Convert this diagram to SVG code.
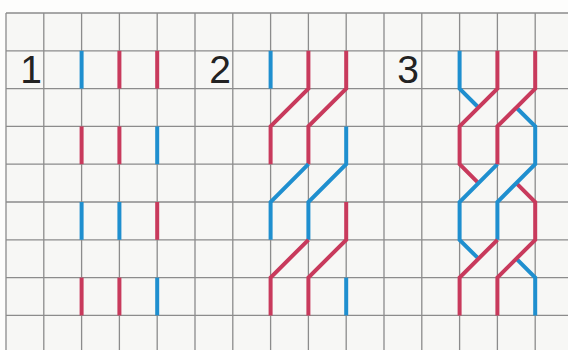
<svg xmlns="http://www.w3.org/2000/svg" width="568" height="350" viewBox="0 0 568 350">
<style>
.grid{stroke:#8c8c8c;stroke-width:1.3;fill:none}
.s{fill:none;stroke-width:4;stroke-linejoin:miter;stroke-linecap:butt}
.b{stroke:#1f8fcf}
.r{stroke:#c83a5c}
.num{font-family:"Liberation Sans",Arial,sans-serif;font-size:39px;fill:#222;text-anchor:middle}
</style>
<rect x="0" y="0" width="568" height="350" fill="#fdfdfc"/>
<g id="grid">
<rect x="6" y="13" width="562" height="337" fill="#f7f7f5"/>
<path class="grid" d="M6 13V350M43.8 13V350M81.6 13V350M119.4 13V350M157.2 13V350M195 13V350M232.8 13V350M270.6 13V350M308.4 13V350M346.2 13V350M384 13V350M421.8 13V350M459.6 13V350M497.4 13V350M535.2 13V350
M6 13H568M6 50.8H568M6 88.6H568M6 126.4H568M6 164.2H568M6 202H568M6 239.8H568M6 277.6H568M6 315.4H568"/>
</g>
<g id="diagram1">
<text class="num" x="31" y="83">1</text>
<g class="s">
<path class="b" d="M81.6 50.8V88.6"/><path class="r" d="M119.4 50.8V88.6"/><path class="r" d="M157.2 50.8V88.6"/>
<path class="r" d="M81.6 126.4V164.2"/><path class="r" d="M119.4 126.4V164.2"/><path class="b" d="M157.2 126.4V164.2"/>
<path class="b" d="M81.6 202V239.8"/><path class="b" d="M119.4 202V239.8"/><path class="r" d="M157.2 202V239.8"/>
<path class="r" d="M81.6 277.6V315.4"/><path class="r" d="M119.4 277.6V315.4"/><path class="b" d="M157.2 277.6V315.4"/>
</g>
</g>
<g id="diagram2">
<text class="num" x="220" y="83">2</text>
<g class="s">
<path class="b" d="M270.6 50.8V88.6"/>
<path class="r" d="M308.4 50.8V88.6L270.6 126.4V164.2"/>
<path class="r" d="M346.2 50.8V88.6L308.4 126.4V164.2"/>
<path class="b" d="M346.2 126.4V164.2L308.4 202V239.8"/>
<path class="b" d="M308.4 164.2L270.6 202V239.8"/>
<path class="r" d="M346.2 202V239.8L308.4 277.6V315.4"/>
<path class="r" d="M308.4 239.8L270.6 277.6V315.4"/>
<path class="b" d="M346.2 277.6V315.4"/>
</g>
</g>
<g id="diagram3">
<text class="num" x="408" y="83">3</text>
<g class="s">
<path class="b" d="M459.6 50.8V88.6L478.5 107.5"/>
<path class="b" d="M516.3 258.7L535.2 277.6V315.4"/>
<path class="r" d="M497.4 50.8V88.6L459.6 126.4V164.2L478.5 183.1"/>
<path class="r" d="M516.3 183.1L535.2 202V239.8L497.4 277.6V315.4"/>
<path class="b" d="M516.3 107.5L535.2 126.4V164.2L497.4 202V239.8"/>
<path class="b" d="M497.4 164.2L459.6 202V239.8L478.5 258.7"/>
<path class="r" d="M535.2 50.8V88.6L497.4 126.4V164.2"/>
<path class="r" d="M497.4 239.8L459.6 277.6V315.4"/>
</g>
</g>
</svg>
